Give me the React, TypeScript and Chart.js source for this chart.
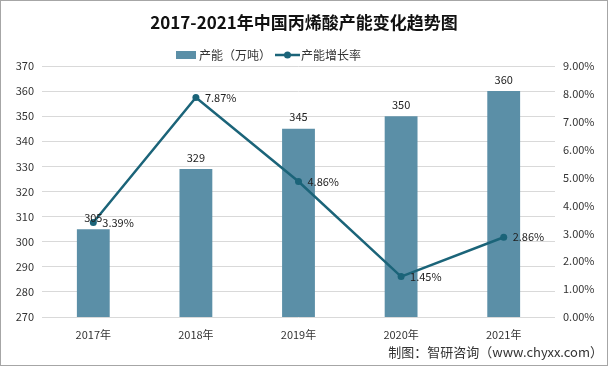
import React, { useEffect, useRef } from "react";
import { Chart, registerables } from "chart.js";

Chart.register(...registerables);

const TITLE = "2017-2021年中国丙烯酸产能变化趋势图";
const SOURCE = "制图：智研咨询（www.chyxx.com）";
const YEARS = ["2017年", "2018年", "2019年", "2020年", "2021年"];
const CAPACITY = [305, 329, 345, 350, 360];
const GROWTH = [3.39, 7.87, 4.86, 1.45, 2.86];
const BAR_LABEL = "产能（万吨）";
const LINE_LABEL = "产能增长率";

const BAR_COLOR = "#5b8fa7";
const LINE_COLOR = "#1b6479";
const FONT = "'Noto Sans CJK SC', 'Noto Sans', sans-serif";

const decorPlugin = {
  id: "decor",
  afterDraw(chart: any) {
    const ctx = chart.ctx;
    const w = chart.width;
    ctx.save();
    // title
    ctx.fillStyle = "#111";
    ctx.font = `bold 17px ${FONT}`;
    ctx.textAlign = "center";
    ctx.textBaseline = "middle";
    ctx.fillText(TITLE, w / 2, 22);
    // legend
    const ly = 54;
    ctx.font = `12px ${FONT}`;
    ctx.textAlign = "left";
    ctx.fillStyle = BAR_COLOR;
    ctx.fillRect(175, ly - 4, 20, 8);
    ctx.fillStyle = "#333";
    ctx.fillText(BAR_LABEL, 198, ly);
    ctx.strokeStyle = LINE_COLOR;
    ctx.lineWidth = 2.5;
    ctx.beginPath();
    ctx.moveTo(274, ly);
    ctx.lineTo(299, ly);
    ctx.stroke();
    ctx.fillStyle = LINE_COLOR;
    ctx.beginPath();
    ctx.arc(286.5, ly, 3.5, 0, Math.PI * 2);
    ctx.fill();
    ctx.fillStyle = "#333";
    ctx.fillText(LINE_LABEL, 300, ly);
    // data labels
    ctx.font = `11px ${FONT}`;
    ctx.fillStyle = "#222";
    const barMeta = chart.getDatasetMeta(1);
    barMeta.data.forEach((el: any, i: number) => {
      ctx.textAlign = "center";
      ctx.textBaseline = "bottom";
      ctx.fillText(String(CAPACITY[i]), el.x, el.y - 6);
    });
    const lineMeta = chart.getDatasetMeta(0);
    lineMeta.data.forEach((el: any, i: number) => {
      ctx.textAlign = "left";
      ctx.textBaseline = "middle";
      ctx.fillText(GROWTH[i].toFixed(2) + "%", el.x + 9, el.y);
    });
    // source
    ctx.font = `13px ${FONT}`;
    ctx.fillStyle = "#333";
    ctx.textAlign = "right";
    ctx.textBaseline = "middle";
    ctx.fillText(SOURCE, w - 4, 351);
    ctx.restore();
  },
};

export default function App() {
  const ref = useRef<HTMLCanvasElement>(null);
  useEffect(() => {
    if (!ref.current) return;
    const chart = new Chart(ref.current, {
      data: {
        labels: YEARS,
        datasets: [
          {
            type: "line",
            label: LINE_LABEL,
            data: GROWTH,
            yAxisID: "y1",
            borderColor: LINE_COLOR,
            backgroundColor: LINE_COLOR,
            borderWidth: 2.5,
            pointRadius: 3.5,
            pointBackgroundColor: LINE_COLOR,
            pointBorderWidth: 0,
            tension: 0,
            order: 0,
          },
          {
            type: "bar",
            label: BAR_LABEL,
            data: CAPACITY,
            yAxisID: "y",
            backgroundColor: BAR_COLOR,
            barPercentage: 0.32,
            categoryPercentage: 1,
            order: 1,
          },
        ],
      } as any,
      options: {
        animation: false,
        responsive: true,
        maintainAspectRatio: false,
        layout: { padding: { top: 65, bottom: 0, left: 0, right: 0 } },
        plugins: {
          legend: { display: false },
          title: { display: false },
          tooltip: { enabled: false },
        },
        scales: {
          x: {
            grid: { display: false },
            border: { display: false },
            ticks: { color: "#333", font: { size: 11, family: FONT }, padding: 3 },
            afterFit: (s: any) => {
              s.height = 48;
            },
          },
          y: {
            position: "left",
            min: 270,
            max: 370,
            ticks: { stepSize: 10, color: "#333", font: { size: 11, family: FONT }, padding: 8 },
            grid: { color: "#d9d9d9", drawTicks: false },
            border: { display: false },
            afterFit: (s: any) => {
              s.width = 41;
            },
          },
          y1: {
            position: "right",
            min: 0,
            max: 9,
            ticks: {
              stepSize: 1,
              color: "#333",
              font: { size: 11, family: FONT },
              padding: 8,
              callback: (v: any) => Number(v).toFixed(2) + "%",
            },
            grid: { display: false, drawTicks: false },
            border: { display: false },
            afterFit: (s: any) => {
              s.width = 52;
            },
          },
        },
      },
      plugins: [decorPlugin],
    });
    return () => chart.destroy();
  }, []);
  return (
    <div
      style={{
        position: "fixed",
        left: 0,
        top: 0,
        width: 608,
        height: 366,
        boxSizing: "border-box",
        border: "1px solid #a6a6a6",
        background: "#fff",
      }}
    >
      <canvas ref={ref} />
    </div>
  );
}
